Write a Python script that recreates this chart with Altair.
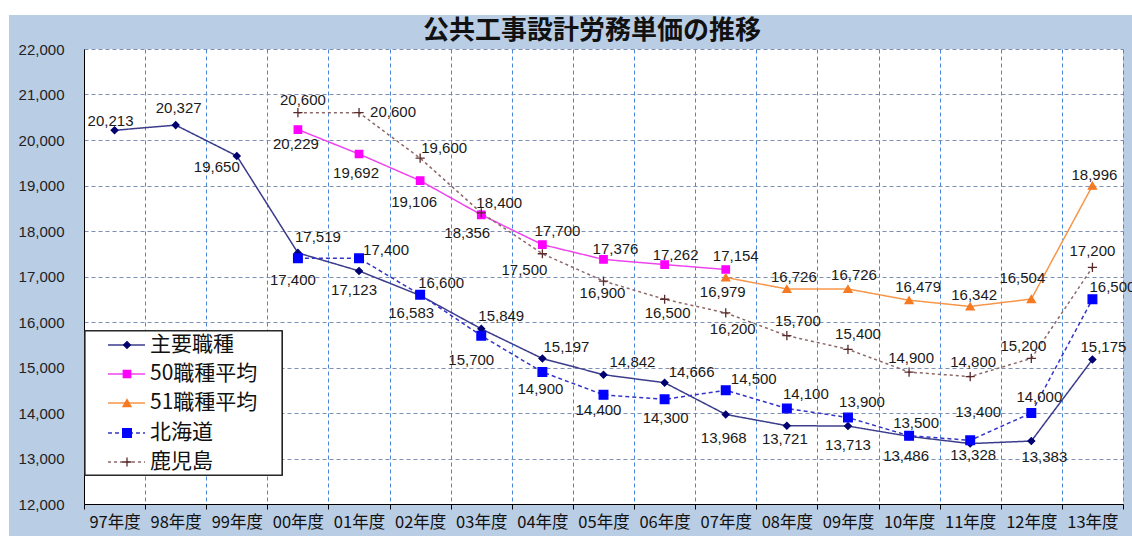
import altair as alt
import pandas as pd

# ---------------- data ----------------
years = ["97年度", "98年度", "99年度", "00年度", "01年度", "02年度", "03年度", "04年度",
         "05年度", "06年度", "07年度", "08年度", "09年度", "10年度", "11年度", "12年度", "13年度"]
series_names = ["主要職種", "50職種平均", "51職種平均", "北海道", "鹿児島"]

shuyo = [20213, 20327, 19650, 17519, 17123, 16583, 15849, 15197, 14842, 14666,
         13968, 13721, 13713, 13486, 13328, 13383, 15175]
avg50 = [None, None, None, 20229, 19692, 19106, 18356, 17700, 17376, 17262,
         17154, None, None, None, None, None, None]
avg51 = [None, None, None, None, None, None, None, None, None, None,
         16979, 16726, 16726, 16479, 16342, 16504, 18996]
hokkaido = [None, None, None, 17400, 17400, 16600, 15700, 14900, 14400, 14300,
            14500, 14100, 13900, 13500, 13400, 14000, 16500]
kagoshima = [None, None, None, 20600, 20600, 19600, 18400, 17500, 16900, 16500,
             16200, 15700, 15400, 14900, 14800, 15200, 17200]
y_ticks = [12000, 13000, 14000, 15000, 16000, 17000, 18000, 19000, 20000, 21000, 22000]
title_text = "公共工事設計労務単価の推移"

# ---------------- layout / style (label placement in pixels) ----------------
label_offsets = {
    "主要職種": [(-4, -9), (3, -17), (-20, 11), (20, -16), (-5, 19), (-9, 18), (20, -13),
               (24, -12), (29, -13), (27, -11), (-2, 24), (-2, 13), (0, 19), (-3, 20),
               (3, 11), (13, 16), (11, -13)],
    "50職種平均": [(-2, 14), (-3, 19), (-6, 21), (-14, 18), (15, -14), (12, -10), (11, -10), (10, -13)],
    "51職種平均": [(-3, 15), (7, -12), (6, -14), (9, -13), (4, -11), (-9, -21), (2, -11)],
    "北海道": [(-5, 22), (27, -8), (21, -12), (-10, 24), (-2, 17), (-5, 15), (1, 19),
            (28, -11), (19, -14), (14, -16), (7, -13), (8, -28), (8, -16), (20, -12)],
    "鹿児島": [(5, -13), (34, -1), (24, -10), (18, -10), (-18, 16), (-1, 12), (3, 14),
            (7, 16), (11, -15), (10, -15), (2, -14), (3, -15), (-8, -12), (0, -16)],
}
line_colors = ["#3c3c8c", "#ee44ee", "#f7964a", "#3434c8", "#8c6868"]
marker_colors = ["#000070", "#ff00ff", "#f57a22", "#0000ff", "#5a2a2a"]
dashes = [[1, 0], [1, 0], [1, 0], [4, 3], [3, 3]]
plus_path = "M-1,0L1,0M0,-1L0,1"
shapes = ["diamond", "square", "triangle-up", "square", plus_path]
sizes = [45, 85, 75, 110, 90]
legend_rows_y = [296, 325, 354, 384, 413]   # pixel rows of the legend box

values_by_series = [shuyo, avg50, avg51, hokkaido, kagoshima]
rows = []
for name, vals in zip(series_names, values_by_series):
    offs = iter(label_offsets[name])
    for yr, v in zip(years, vals):
        if v is None:
            continue
        dx, dy = next(offs)
        rows.append({"year": yr, "series": name, "value": v, "dx": dx, "dy": dy})
df = pd.DataFrame(rows)
df["idx"] = range(len(df))
legend_df = pd.DataFrame({"series": series_names})
title_df = pd.DataFrame({"t": [title_text]})

FONT_NUM = "Liberation Sans"
FONT_JP = "Noto Sans CJK JP"

x_scale = alt.Scale(domain=years, paddingInner=0, paddingOuter=0)
y_scale = alt.Scale(domain=[y_ticks[0], y_ticks[-1]], nice=False, zero=False)

color_s = alt.Color("series:N", scale=alt.Scale(domain=series_names, range=line_colors), legend=None)
dash_s = alt.StrokeDash("series:N", scale=alt.Scale(domain=series_names, range=dashes), legend=None)
fill_s = alt.Fill("series:N", scale=alt.Scale(domain=series_names, range=marker_colors), legend=None)
stroke_s = alt.Stroke("series:N", scale=alt.Scale(domain=series_names, range=marker_colors), legend=None)
shape_s = alt.Shape("series:N", scale=alt.Scale(domain=series_names, range=shapes), legend=None)
size_s = alt.Size("series:N", scale=alt.Scale(domain=series_names, range=sizes), legend=None)

x_axis = alt.Axis(title=None, tickBand="extent", labelFont=FONT_JP, labelFontSize=16.5,
                  labelColor="#111", labelAngle=0, labelPadding=5, tickSize=5,
                  tickColor="#000", domainColor="#000", grid=True, gridColor="#4a86dc",
                  gridDash=[4, 3], gridWidth=1)
y_axis = alt.Axis(title=None, values=y_ticks, labelExpr="format(datum.value, ',')",
                  labelFont=FONT_NUM, labelFontSize=15, labelColor="#222", tickSize=0,
                  labelPadding=20, domainColor="#000", grid=True, gridColor="#7d8fb2",
                  gridDash=[4, 3], gridWidth=1)

base = alt.Chart(df)
X = alt.X("year:N", scale=x_scale, bandPosition=0.5, axis=x_axis, sort=years)
Y = alt.Y("value:Q", scale=y_scale, axis=y_axis)

layers = []
# page decoration: white strips at top and left edges, title
layers.append(alt.Chart(title_df).mark_rect(fill="white").encode(
    x=alt.value(-84), x2=alt.value(1048), y=alt.value(-49), y2=alt.value(-34)))
layers.append(alt.Chart(title_df).mark_rect(fill="white").encode(
    x=alt.value(-84), x2=alt.value(-75), y=alt.value(-49), y2=alt.value(487)))
layers.append(alt.Chart(title_df).mark_text(font=FONT_JP, fontSize=26, fontWeight="bold",
                                            color="#111", align="center", baseline="middle").encode(
    x=alt.value(508), y=alt.value(-18), text="t:N"))

layers.append(base.mark_line(strokeWidth=1.5).encode(
    x=X, y=Y, color=color_s, strokeDash=dash_s, detail="series:N"))
layers.append(base.mark_point(filled=True, opacity=1, strokeWidth=1.3).encode(
    x=X, y=Y, fill=fill_s, stroke=stroke_s, shape=shape_s, size=size_s))
for r in df.itertuples():
    layers.append(base.transform_filter(alt.datum.idx == int(r.idx)).mark_text(
        font=FONT_NUM, fontSize=15, color="#1a1a1a", dx=int(r.dx), dy=int(r.dy)).encode(
        x=X, y=Y, text=alt.Text("value:Q", format=",")))

# legend box drawn inside the plot
lbase = alt.Chart(legend_df)
layers.append(lbase.mark_rect(fill="white", stroke="#222", strokeWidth=1.2).encode(
    x=alt.value(1), x2=alt.value(198), y=alt.value(282), y2=alt.value(426)))
for name, ry in zip(series_names, legend_rows_y):
    lf = lbase.transform_filter(alt.datum.series == name)
    layers.append(lf.mark_rule(strokeWidth=1.5).encode(
        x=alt.value(24), x2=alt.value(61), y=alt.value(ry), color=color_s, strokeDash=dash_s))
    layers.append(lf.mark_point(filled=True, opacity=1, strokeWidth=1.3).encode(
        x=alt.value(43), y=alt.value(ry), fill=fill_s, stroke=stroke_s, shape=shape_s, size=size_s))
    layers.append(lf.mark_text(align="left", baseline="middle", font=FONT_JP, fontSize=21,
                               color="#111").encode(x=alt.value(66), y=alt.value(ry), text="series:N"))

chart = alt.layer(*layers).properties(
    width=1039, height=455,
    autosize=alt.AutoSizeParams(type="none"),
    padding={"left": 84, "top": 49, "right": 9, "bottom": 32},
    background="#b9cde5",
).configure_view(fill="white", stroke=None)

chart.save("out.html", embed_options={"renderer": "svg", "actions": False})
